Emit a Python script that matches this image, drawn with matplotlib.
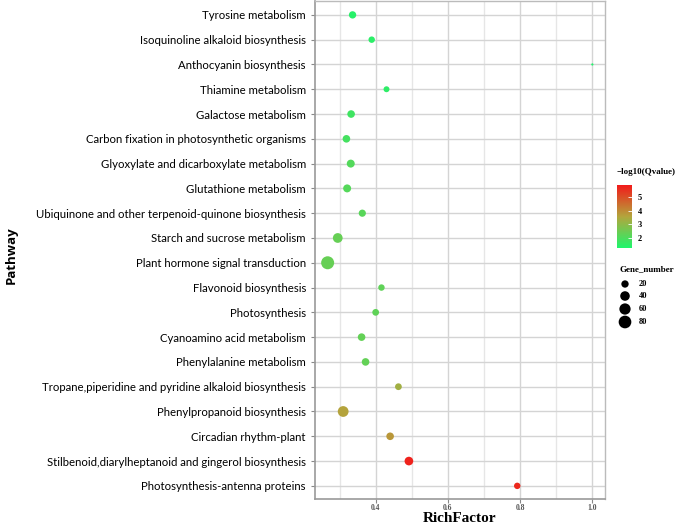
import numpy as np
import matplotlib
matplotlib.use('Agg')
import matplotlib.pyplot as plt
from matplotlib.colors import LinearSegmentedColormap, Normalize
from matplotlib.colorbar import ColorbarBase

# Pathways listed from top to bottom
pathways = [
    'Tyrosine metabolism',
    'Isoquinoline alkaloid biosynthesis',
    'Anthocyanin biosynthesis',
    'Thiamine metabolism',
    'Galactose metabolism',
    'Carbon fixation in photosynthetic organisms',
    'Glyoxylate and dicarboxylate metabolism',
    'Glutathione metabolism',
    'Ubiquinone and other terpenoid-quinone biosynthesis',
    'Starch and sucrose metabolism',
    'Plant hormone signal transduction',
    'Flavonoid biosynthesis',
    'Photosynthesis',
    'Cyanoamino acid metabolism',
    'Phenylalanine metabolism',
    'Tropane,piperidine and pyridine alkaloid biosynthesis',
    'Phenylpropanoid biosynthesis',
    'Circadian rhythm-plant',
    'Stilbenoid,diarylheptanoid and gingerol biosynthesis',
    'Photosynthesis-antenna proteins',
]
rich_factor = [0.336, 0.389, 1.0, 0.430, 0.332, 0.319, 0.331, 0.321, 0.363, 0.295,
               0.267, 0.416, 0.400, 0.361, 0.372, 0.463, 0.310, 0.440, 0.492, 0.792]
gene_number = [20, 14, 1, 11, 22, 22, 25, 25, 19, 42,
               85, 14, 16, 22, 22, 16, 54, 22, 31, 14]
qvalue = [1.45, 1.5, 1.35, 1.55, 1.8, 1.9, 2.1, 2.15, 2.2, 2.4,
          2.4, 2.3, 2.3, 2.35, 2.35, 3.3, 3.6, 3.8, 5.7, 5.6]

legend_sizes = [20, 40, 60, 80]
cbar_ticks = [2, 3, 4, 5]

cmap = LinearSegmentedColormap.from_list('qv', ['#1ef66c', '#b3a53c', '#f21a1a'])
norm = Normalize(vmin=1.3, vmax=5.84)

# ggplot-like area scaling of point sizes (diameter in px)
gmin, gmax = 1, 85
def diam_px(n):
    return 2.2 + 10.8 * np.sqrt((np.asarray(n, float) - gmin) / (gmax - gmin))

def marker_s(n):
    return (diam_px(n) * 0.72) ** 2

fig = plt.figure(figsize=(6.85, 5.23), dpi=100)
ax = fig.add_axes([315 / 685, 24 / 523, 290 / 685, 498 / 523])

ypos = np.arange(len(pathways))[::-1]
ax.scatter(rich_factor, ypos, s=marker_s(gene_number),
           c=cmap(norm(qvalue)), linewidths=0, zorder=3)

ax.set_xlim(0.232, 1.035)
ax.set_ylim(-0.53, 19.56)
ax.set_xticks([0.4, 0.6, 0.8, 1.0])
ax.set_xticklabels(['0.4', '0.6', '0.8', '1.0'], fontfamily='Liberation Serif',
                   fontweight='bold', fontsize=5.5, color='#555555')
ax.set_xticks([0.3, 0.5, 0.7, 0.9], minor=True)
ax.set_yticks(ypos)
ax.set_yticklabels(pathways, fontfamily=['Lato', 'DejaVu Sans'], fontsize=8.2, color='black')
ax.grid(True, which='major', color='#d4d4d4', linewidth=1.0, zorder=0)
ax.grid(True, which='minor', axis='x', color='#e6e6e6', linewidth=1.0, zorder=0)
ax.tick_params(axis='both', which='major', length=3, color='#888888', width=0.8)
ax.tick_params(axis='x', which='major', pad=0.5)
ax.tick_params(axis='x', which='minor', length=0)
ax.set_axisbelow(True)
for side in ['left', 'bottom']:
    ax.spines[side].set_color('#999999')
    ax.spines[side].set_linewidth(1.2)
for side in ['top', 'right']:
    ax.spines[side].set_color('#bbbbbb')
    ax.spines[side].set_linewidth(1.0)

fig.text(460 / 685, 1 - 518 / 523, 'RichFactor', ha='center', va='center',
         fontfamily='Liberation Serif', fontweight='bold', fontsize=11)
fig.text(11 / 685, 1 - 255 / 523, 'Pathway', rotation=90, ha='center', va='center',
         fontfamily=['Open Sans', 'DejaVu Sans'], fontweight='bold', fontsize=9.5)

# colour legend
fig.text(617 / 685, 1 - 172 / 523, '\u2212log10(Qvalue)', ha='left', va='center',
         fontfamily='Liberation Serif', fontweight='bold', fontsize=6.5)
cax = fig.add_axes([617 / 685, 1 - 248 / 523, 15 / 685, 63 / 523])
cb = ColorbarBase(cax, cmap=cmap, norm=norm, orientation='vertical')
cb.set_ticks(cbar_ticks)
cb.outline.set_visible(False)
cax.tick_params(length=3, direction='in', color='white', width=0.6, pad=4)
for t in cax.get_yticklabels():
    t.set_fontfamily('Liberation Serif')
    t.set_fontweight('bold')
    t.set_fontsize(6)

# size legend
fig.text(620 / 685, 1 - 269 / 523, 'Gene_number', ha='left', va='center',
         fontfamily='Liberation Serif', fontweight='bold', fontsize=6.5)
lax = fig.add_axes([615 / 685, 1 - 330 / 523, 40 / 685, 55 / 523])
lax.set_xlim(0, 40)
lax.set_ylim(330, 275)
ly = [284, 296, 309, 322]
lax.scatter([10] * len(legend_sizes), ly, s=marker_s(legend_sizes), c='black', linewidths=0)
for yv, n in zip(ly, legend_sizes):
    lax.text(24, yv, str(n), ha='left', va='center', fontfamily='Liberation Serif',
             fontweight='bold', fontsize=6)
lax.axis('off')

fig.savefig('out.png', dpi=100)
